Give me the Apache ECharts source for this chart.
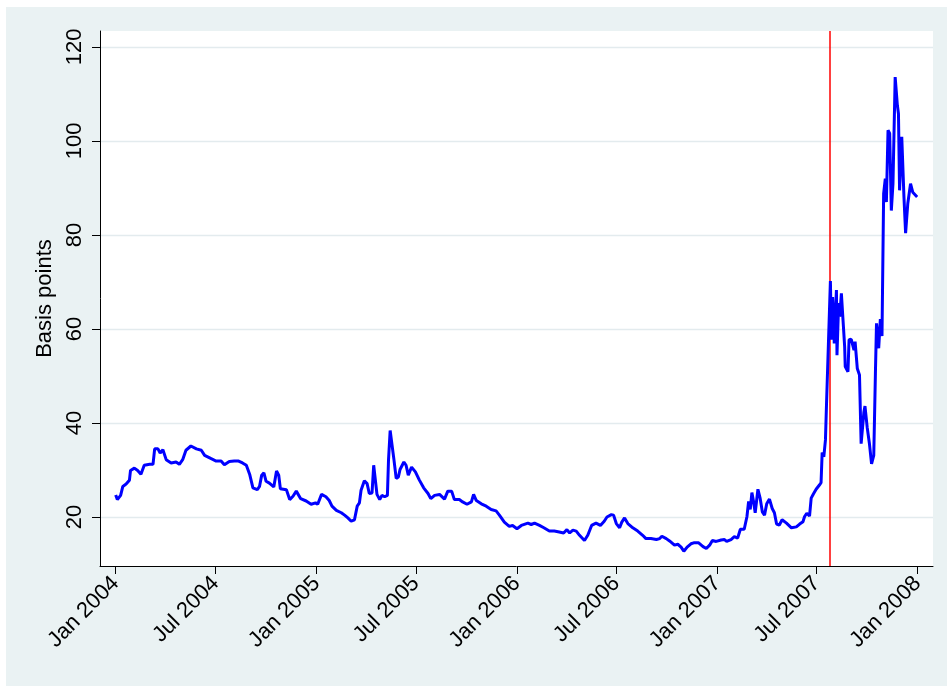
<!DOCTYPE html>
<html><head><meta charset="utf-8">
<script src="https://cdn.jsdelivr.net/npm/echarts@6.0.0/dist/echarts.min.js"></script>
<style>
html,body{margin:0;padding:0;background:#fff;}
#bg{position:absolute;left:6px;top:7px;width:941px;height:679px;background:#EAF2F3;}
#chart{position:absolute;left:0;top:0;width:947px;height:693px;}
</style></head><body>
<div id="bg"></div><div id="chart"></div>
<script>
const dates = [
'2004-01-01','2004-01-04','2004-01-10','2004-01-14','2004-01-20','2004-01-26','2004-01-28','2004-02-04','2004-02-10','2004-02-16','2004-02-22',
'2004-03-03','2004-03-09','2004-03-12','2004-03-18','2004-03-22','2004-03-27','2004-04-02','2004-04-11','2004-04-20','2004-04-26',
'2004-05-02','2004-05-08','2004-05-17','2004-05-27','2004-06-05','2004-06-11','2004-06-23','2004-07-02','2004-07-11','2004-07-17','2004-07-26',
'2004-08-04','2004-08-12','2004-08-19','2004-08-26','2004-09-01','2004-09-07','2004-09-15','2004-09-19','2004-09-23','2004-09-27',
'2004-10-01','2004-10-07','2004-10-15','2004-10-20','2004-10-24','2004-10-27','2004-11-07','2004-11-13','2004-11-19','2004-11-25',
'2004-12-03','2004-12-13','2004-12-22','2004-12-30',
'2005-01-03','2005-01-10','2005-01-18','2005-01-24','2005-01-29','2005-02-06','2005-02-15','2005-02-21','2005-02-27','2005-03-05','2005-03-11',
'2005-03-16','2005-03-20','2005-03-23','2005-03-29','2005-04-03','2005-04-07','2005-04-12','2005-04-15','2005-04-18','2005-04-21','2005-04-26',
'2005-04-30','2005-05-05','2005-05-10','2005-05-12','2005-05-15','2005-05-18','2005-05-22','2005-05-26','2005-05-30','2005-06-02','2005-06-09',
'2005-06-13','2005-06-17','2005-06-23','2005-06-30','2005-07-07','2005-07-15','2005-07-23','2005-07-28','2005-08-04','2005-08-13','2005-08-22',
'2005-08-28','2005-09-04','2005-09-09','2005-09-18','2005-09-24','2005-10-02','2005-10-10','2005-10-14','2005-10-19','2005-10-28','2005-11-06',
'2005-11-15','2005-11-24','2005-11-30','2005-12-09','2005-12-18','2005-12-24',
'2006-01-01','2006-01-09','2006-01-21','2006-01-27','2006-02-02','2006-02-11','2006-02-19','2006-03-01','2006-03-10','2006-03-19','2006-03-27',
'2006-04-02','2006-04-07','2006-04-13','2006-04-19','2006-04-25','2006-05-04','2006-05-10','2006-05-17','2006-05-25','2006-06-02','2006-06-09',
'2006-06-14','2006-06-22','2006-06-26','2006-07-01','2006-07-07','2006-07-11','2006-07-16','2006-07-22','2006-07-31','2006-08-09','2006-08-18',
'2006-08-24','2006-09-02','2006-09-12','2006-09-18','2006-09-22','2006-09-30','2006-10-06','2006-10-15','2006-10-21','2006-10-27','2006-11-01',
'2006-11-07','2006-11-14','2006-11-19','2006-11-28','2006-12-06','2006-12-12','2006-12-18','2006-12-23','2006-12-30',
'2007-01-08','2007-01-14','2007-01-18','2007-01-26','2007-02-01','2007-02-07','2007-02-12','2007-02-19','2007-02-24','2007-02-27','2007-03-02',
'2007-03-05','2007-03-08','2007-03-11','2007-03-16','2007-03-20','2007-03-24','2007-03-28','2007-04-01','2007-04-06','2007-04-11','2007-04-15',
'2007-04-19','2007-04-24','2007-04-29','2007-05-07','2007-05-16','2007-05-25','2007-05-31','2007-06-06','2007-06-09','2007-06-13','2007-06-18',
'2007-06-21','2007-06-25','2007-06-30','2007-07-06','2007-07-09','2007-07-11','2007-07-14','2007-07-17','2007-07-19','2007-07-22','2007-07-26',
'2007-07-28','2007-07-30','2007-08-01','2007-08-02','2007-08-06','2007-08-07','2007-08-10','2007-08-12','2007-08-15','2007-08-18','2007-08-21',
'2007-08-22','2007-08-27','2007-08-29','2007-09-02','2007-09-07','2007-09-09','2007-09-13','2007-09-17','2007-09-20','2007-09-25','2007-09-27',
'2007-10-01','2007-10-05','2007-10-09','2007-10-13','2007-10-16','2007-10-18','2007-10-22','2007-10-25','2007-10-28','2007-10-31','2007-11-03',
'2007-11-05','2007-11-08','2007-11-11','2007-11-14','2007-11-17','2007-11-21','2007-11-25','2007-11-27','2007-11-29','2007-12-03','2007-12-07',
'2007-12-10','2007-12-14','2007-12-19','2007-12-23','2007-12-26','2007-12-31'
];
const basisPoints = [
24.7,23.7,24.6,26.5,27.0,27.8,29.9,30.4,29.9,29.1,31.0,
31.2,31.2,34.5,34.5,33.6,34.3,32.2,31.5,31.7,31.2,
32.2,34.2,35.1,34.5,34.2,33.1,32.4,31.9,31.9,31.1,31.8,
31.9,31.9,31.5,31.0,29.1,26.2,25.8,26.5,28.9,29.4,
27.6,27.2,26.4,29.8,28.9,26.0,25.8,23.7,24.4,25.5,
23.9,23.4,22.7,23.0,
22.7,24.8,24.3,23.5,22.3,21.4,20.9,20.4,19.8,19.1,19.4,
22.3,23.0,25.7,27.7,27.1,25.0,25.1,31.0,30.8,24.8,23.7,
24.6,24.3,24.6,32.1,38.4,38.6,32.1,28.2,28.5,30.1,31.7,
31.0,28.9,30.6,29.6,27.9,26.2,25.0,23.9,24.6,24.8,23.8,
25.5,25.5,23.7,23.7,23.2,22.7,23.2,24.8,23.5,22.8,22.3,
21.6,21.3,20.4,18.9,18.0,18.2,
17.5,18.2,18.7,18.4,18.7,18.2,17.7,17.0,17.0,16.8,16.6,
17.3,16.6,17.2,17.0,16.1,15.0,16.1,18.2,18.7,18.2,19.1,
20.0,20.5,20.4,18.6,17.7,18.9,19.8,18.6,17.7,17.0,16.1,
15.4,15.4,15.2,15.4,15.9,15.4,14.9,14.0,14.2,13.6,12.7,
13.6,14.3,14.5,14.5,13.7,13.3,14.0,15.0,14.8,
15.1,15.2,14.8,15.2,15.8,15.5,17.4,17.4,20.1,23.3,21.6,
25.2,23.3,20.9,25.9,24.0,21.1,20.4,22.8,23.8,21.8,20.9,
18.5,18.3,19.4,18.7,17.7,17.9,18.5,19.0,20.1,20.8,20.2,
24.0,24.9,25.9,26.8,27.3,33.7,32.8,36.4,44.3,44.5,70.2,
57.7,66.8,61.9,56.9,68.3,54.4,65.5,62.6,67.6,61.9,56.2,
52.0,50.9,57.7,57.8,55.5,57.3,51.6,50.2,35.6,42.3,43.6,
39.1,35.7,31.3,33.1,50.5,61.2,55.9,62.1,58.5,88.8,92.0,
87.0,102.3,101.6,85.2,90.9,113.6,107.6,105.8,89.5,100.9,88.1,
80.4,86.7,90.9,89.1,88.7,88.1
];
const xTickDates = ['2004-01-01','2004-07-01','2005-01-01','2005-07-01','2006-01-01','2006-07-01','2007-01-01','2007-07-01','2008-01-01'];
const yTickValues = [20,40,60,80,100,120];
const eventDate = '2007-07-25';
const monthNames = ['Jan','Feb','Mar','Apr','May','Jun','Jul','Aug','Sep','Oct','Nov','Dec'];

const ts = s => +echarts.time.parse(s);
const xTicks = xTickDates.map(ts);
const FONT = '"Liberation Sans", Arial, Helvetica, sans-serif';

const chart = echarts.init(document.getElementById('chart'), null, {renderer: 'canvas'});
chart.setOption({
  animation: false,
  backgroundColor: 'transparent',
  grid: {left: 100, right: 14, top: 31, bottom: 127, show: true, backgroundColor: '#ffffff', borderWidth: 0},
  xAxis: {
    type: 'value',
    min: ts('2003-12-03 10:00'),
    max: ts('2008-01-28 22:00'),
    axisLine: {show: true, onZero: false, lineStyle: {color: '#000', width: 1}},
    axisTick: {show: true, length: 8, customValues: xTicks, lineStyle: {color: '#000', width: 1}},
    axisLabel: {
      customValues: xTicks, rotate: 45, margin: 14, fontSize: 22, color: '#000', fontFamily: FONT,
      formatter: v => { const d = new Date(v); return monthNames[d.getMonth()] + ' ' + d.getFullYear(); }
    },
    splitLine: {show: false}
  },
  yAxis: {
    type: 'value',
    min: 9.57, max: 123.4,
    name: 'Basis points', nameLocation: 'middle', nameGap: 42, nameRotate: 90,
    nameTextStyle: {fontSize: 22, color: '#000', fontFamily: FONT},
    axisLine: {show: true, lineStyle: {color: '#000', width: 1}},
    axisTick: {show: true, length: 8, customValues: yTickValues, lineStyle: {color: '#000', width: 1}},
    axisLabel: {customValues: yTickValues, rotate: 90, margin: 14, fontSize: 22, color: '#000', fontFamily: FONT},
    splitLine: {show: true, lineStyle: {color: '#e3ebee', width: 1.3}}
  },
  series: [
    {
      type: 'line', data: [], z: 1, silent: true,
      markLine: {
        z: 1, silent: true, symbol: ['none', 'none'], label: {show: false},
        lineStyle: {color: '#ff0000', width: 1.5, type: 'solid'},
        emphasis: {disabled: true},
        data: [{xAxis: ts(eventDate)}]
      }
    },
    {
      type: 'line', z: 3,
      data: dates.map((d, i) => [ts(d), basisPoints[i]]),
      showSymbol: false, symbol: 'none',
      lineStyle: {color: '#0000ff', width: 3},
      itemStyle: {color: '#0000ff'}
    }
  ]
});
</script>
</body></html>
